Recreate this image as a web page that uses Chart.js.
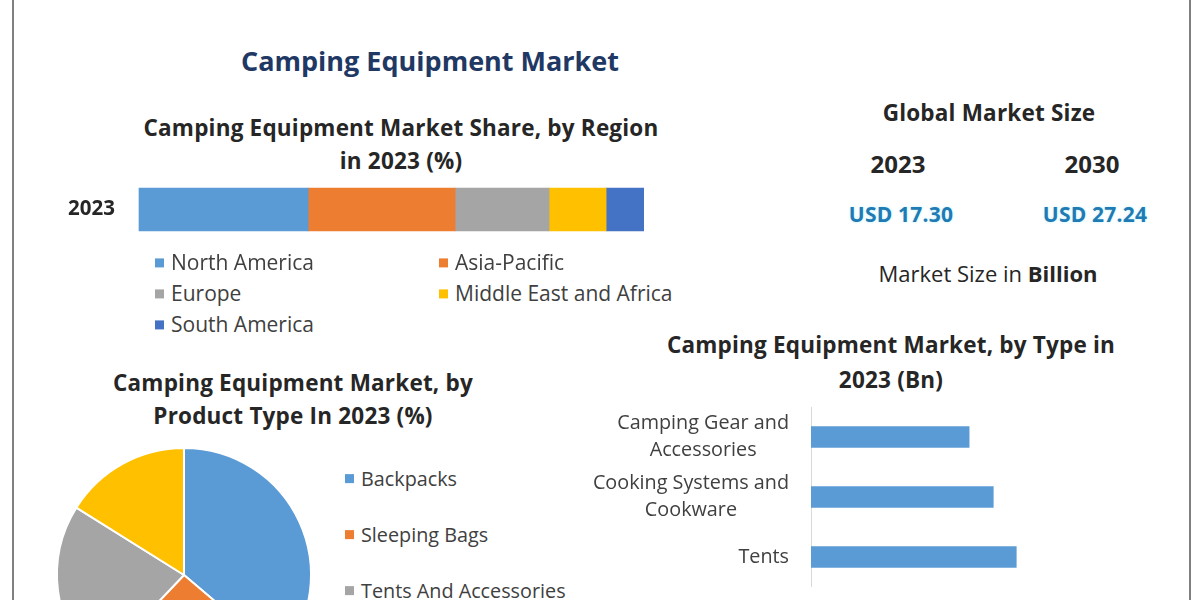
<!DOCTYPE html>
<html>
<head>
<meta charset="utf-8">
<title>Camping Equipment Market</title>
<script src="https://cdn.jsdelivr.net/npm/chart.js@4.4.0/dist/chart.umd.min.js"></script>
<style>
    html, body { margin: 0; padding: 0; }
    body {
        width: 1200px; height: 600px; overflow: hidden; position: relative;
        background: #fff; font-family: "Open Sans", Lato, sans-serif; color: #262626;
    }
    .frame { position: absolute; top: 0; bottom: 0; width: 2px; background: #808080; }
    .t { position: absolute; white-space: nowrap; transform: translate(-50%, -50%); line-height: 1.2; }
    .l { transform: translate(0, -50%); }
    .b { font-weight: bold; }
    .h { font-weight: bold; font-size: 22.5px; letter-spacing: 0.2px; }
    .leg { font-size: 21px; color: #404040; }
    .sq { display: inline-block; width: 9px; height: 9px; margin-right: 7px; vertical-align: 3px; }
    canvas { position: absolute; }
</style>
</head>
<body>
<div class="frame" style="left:12px"></div>
<div class="frame" style="left:1189px"></div>

<div class="t b" style="left:430px;top:61px;font-size:27px;color:#1f3864">Camping Equipment Market</div>

<div class="t h" style="left:401px;top:127px">Camping Equipment Market Share, by Region</div>
<div class="t h" style="left:401px;top:160px">in 2023 (%)</div>
<canvas id="regionChart" width="604" height="89" style="left:40px;top:165px;width:604px;height:89px"></canvas>
<div id="regionLegend"></div>

<div class="t h" style="left:989px;top:112px">Global Market Size</div>
<div id="marketSize"></div>
<div class="t" style="left:988px;top:273px;font-size:22px">Market Size in <b>Billion</b></div>

<div class="t h" style="left:293px;top:382px">Camping Equipment Market, by</div>
<div class="t h" style="left:293px;top:415px">Product Type In 2023 (%)</div>
<canvas id="productChart" width="300" height="300" style="left:34px;top:425px;width:300px;height:300px"></canvas>
<div id="productLegend"></div>

<div class="t h" style="left:891px;top:344px">Camping Equipment Market, by Type in</div>
<div class="t h" style="left:891px;top:379px">2023 (Bn)</div>
<canvas id="typeChart" width="576" height="187" style="left:580px;top:400px;width:576px;height:187px"></canvas>

<script>
const regionYear = ["2023"];
const regions = ["North America", "Asia-Pacific", "Europe", "Middle East and Africa", "South America"];
const regionShares = [33.5, 29.1, 18.6, 11.3, 7.5];
const regionColors = ["#5b9bd5", "#ed7d31", "#a5a5a5", "#ffc000", "#4472c4"];

const marketYears = ["2023", "2030"];
const marketSizes = ["USD 17.30", "USD 27.24"];

const productTypes = ["Backpacks", "Sleeping Bags", "Tents And Accessories", "Others"];
const productShares = [36.2, 25.9, 21.8, 16.1];
const productColors = ["#5b9bd5", "#ed7d31", "#a5a5a5", "#ffc000"];

const equipmentTypes = [["Camping Gear and", "Accessories"], ["Cooking Systems and", "Cookware"], ["Tents"]];
const equipmentValues = [2.75, 3.17, 3.57];

// legend for the stacked bar, two columns
let legendHtml = "";
regions.forEach(function(name, i) {
    const x = i % 2 === 0 ? 155 : 439;
    const y = 263 + Math.floor(i / 2) * 31;
    legendHtml += '<div class="t l leg" style="left:' + x + 'px;top:' + y + 'px">' +
        '<span class="sq" style="background:' + regionColors[i] + '"></span>' + name + '</div>';
});
document.getElementById("regionLegend").innerHTML = legendHtml;

let sizeHtml = "";
marketYears.forEach(function(year, i) {
    const x = i === 0 ? 898 : 1092;
    sizeHtml += '<div class="t b" style="left:' + x + 'px;top:164px;font-size:24px">' + year + '</div>';
    sizeHtml += '<div class="t b" style="left:' + (x + 3) + 'px;top:215px;font-size:21px;color:#1f7bb3;' +
        'letter-spacing:0.2px;text-shadow:0 0 3px #bfefff">' + marketSizes[i] + '</div>';
});
document.getElementById("marketSize").innerHTML = sizeHtml;

let pieLegend = "";
productTypes.forEach(function(name, i) {
    pieLegend += '<div class="t l leg" style="left:345px;top:' + (479 + i * 56) + 'px;font-size:19.8px">' +
        '<span class="sq" style="background:' + productColors[i] + '"></span>' + name + '</div>';
});
document.getElementById("productLegend").innerHTML = pieLegend;

new Chart(document.getElementById("regionChart"), {
    type: "bar",
    data: {
        labels: regionYear,
        datasets: regions.map(function(name, i) {
            return {
                label: name,
                data: [regionShares[i]],
                backgroundColor: regionColors[i],
                grouped: false,
                barThickness: 43,
                categoryPercentage: 1,
                barPercentage: 1,
                clip: false
            };
        })
    },
    options: {
        indexAxis: "y",
        responsive: false,
        maintainAspectRatio: false,
        animation: false,
        plugins: { legend: { display: false }, tooltip: { enabled: false } },
        scales: {
            x: { stacked: true, display: false, min: 0, max: 100 },
            y: {
                stacked: true,
                grid: { display: false },
                border: { color: "#d9d9d9" },
                ticks: { color: "#262626", padding: 16, font: { family: "Open Sans", size: 20.5, weight: "bold" } },
                afterFit: function(scale) { scale.width = 99; }
            }
        }
    }
});

new Chart(document.getElementById("productChart"), {
    type: "pie",
    data: {
        labels: productTypes,
        datasets: [{
            data: productShares,
            backgroundColor: productColors,
            borderColor: "#ffffff",
            borderWidth: 2
        }]
    },
    options: {
        responsive: false,
        maintainAspectRatio: false,
        animation: false,
        radius: 127,
        plugins: { legend: { display: false }, tooltip: { enabled: false } }
    }
});

// category labels: each label block right aligned, its lines centred
const typeLabels = {
    id: "typeLabels",
    afterDraw: function(chart) {
        const ctx = chart.ctx;
        const yScale = chart.scales.y;
        ctx.save();
        ctx.font = "19.8px 'Open Sans'";
        ctx.fillStyle = "#404040";
        ctx.textAlign = "center";
        ctx.textBaseline = "middle";
        chart.data.labels.forEach(function(label, i) {
            const lines = [].concat(label);
            const w = Math.max.apply(null, lines.map(function(s) { return ctx.measureText(s).width; }));
            const cx = yScale.right - 22 - w / 2;
            const cy = yScale.getPixelForValue(i);
            lines.forEach(function(s, j) {
                ctx.fillText(s, cx, cy + (j - (lines.length - 1) / 2) * 27);
            });
        });
        ctx.restore();
    }
};

new Chart(document.getElementById("typeChart"), {
    type: "bar",
    data: {
        labels: equipmentTypes,
        datasets: [{ data: equipmentValues, backgroundColor: "#5b9bd5", barThickness: 21 }]
    },
    options: {
        indexAxis: "y",
        responsive: false,
        maintainAspectRatio: false,
        animation: false,
        layout: { padding: { top: 7 } },
        plugins: { legend: { display: false }, tooltip: { enabled: false } },
        scales: {
            x: { display: false, min: 0, max: 6 },
            y: {
                grid: { display: false },
                border: { color: "#d9d9d9" },
                ticks: { display: false },
                afterFit: function(scale) { scale.width = 231; }
            }
        }
    },
    plugins: [typeLabels]
});
</script>
</body>
</html>
